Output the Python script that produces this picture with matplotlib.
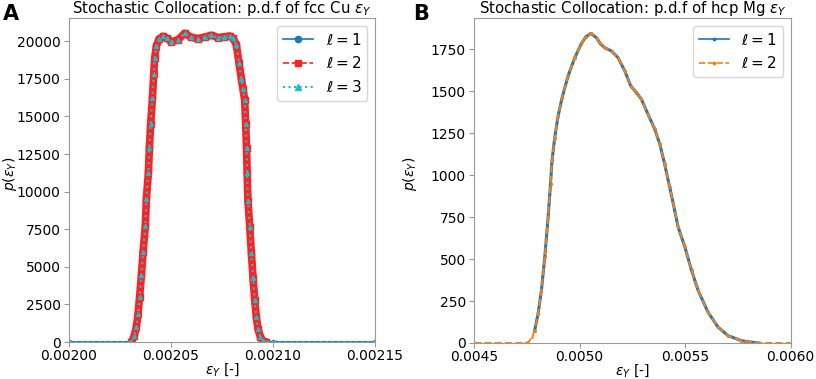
import numpy as np
import matplotlib.pyplot as plt
from matplotlib.lines import Line2D

# panel A: fcc Cu, p.d.f of yield strain
cu_eps = [0.00200, 0.00203, 0.0020306, 0.0020319, 0.0020330, 0.0020338, 0.0020346,
          0.0020355, 0.0020363, 0.0020374, 0.0020379, 0.0020389, 0.0020394, 0.0020400,
          0.0020409, 0.0020415, 0.0020420, 0.0020428, 0.0020441, 0.0020461, 0.0020480,
          0.0020502, 0.0020534, 0.0020567, 0.0020600, 0.0020632, 0.0020665, 0.0020698,
          0.0020730, 0.0020760, 0.0020788, 0.0020804, 0.0020820, 0.0020833, 0.0020845,
          0.0020853, 0.0020861, 0.0020866, 0.0020870, 0.0020873, 0.0020877, 0.0020886,
          0.0020894, 0.0020902, 0.0020910, 0.0020918, 0.0020926, 0.0020938, 0.0020951,
          0.0020967, 0.00210, 0.00215]
cu_pdf = [0, 0, 0, 380, 1000, 1840, 3000,
          4470, 6000, 7700, 9500, 11260, 12920, 14470,
          16240, 17800, 18900, 19670, 20150, 20330, 20200,
          19960, 20100, 20530, 20260, 20180, 20280, 20400,
          20250, 20300, 20350, 20200, 19780, 18560, 17500,
          16800, 16100, 14470, 12920, 11260, 9400, 7630,
          5900, 4270, 2810, 1660, 890, 330, 60,
          0, 0, 0]
# the l=2 run only covers the non-zero part
cu_eps_l2 = cu_eps[2:-2]
cu_pdf_l2 = cu_pdf[2:-2]

# panel B: hcp Mg
mg_eps = [0.004787, 0.004803, 0.004819, 0.004835, 0.004851, 0.004862, 0.004869,
          0.004882, 0.004898, 0.004917, 0.004945, 0.004977, 0.005008, 0.005030,
          0.005053, 0.005080, 0.005100, 0.005119, 0.005151, 0.005182, 0.005214,
          0.005242, 0.005269, 0.005293, 0.005324, 0.005356, 0.005380, 0.005403,
          0.005427, 0.005443, 0.005466, 0.005498, 0.005530, 0.005561, 0.005608,
          0.005656, 0.005703, 0.005766, 0.005830, 0.005850]
mg_pdf = [74, 174, 314, 514, 754, 946, 1085,
          1224, 1353, 1462, 1591, 1700, 1784, 1825,
          1845, 1819, 1780, 1760, 1740, 1700, 1621,
          1532, 1492, 1452, 1363, 1274, 1184, 1065,
          927, 834, 694, 574, 434, 314, 184,
          94, 44, 14, 2, 0]
mg_eps2 = [0.00450, 0.00474, 0.004756, 0.004775] + mg_eps + [0.005861, 0.00600]
mg_pdf2 = [0, 0, 4, 34] + mg_pdf + [0, 0]

blue = '#1f77b4'
red = '#ff2222'
cyan = '#17becf'
orange = '#ff7f0e'
gray = '#999999'

plt.rcParams['font.family'] = 'DejaVu Sans'
fig = plt.figure(figsize=(8.16, 3.79), dpi=100)
axA = fig.add_axes([0.0846, 0.0976, 0.375, 0.8550])
axB = fig.add_axes([0.581, 0.0950, 0.388, 0.8576])

def style(ax):
    for s in ax.spines.values():
        s.set_color(gray)
    ax.tick_params(colors=gray, labelcolor='black', labelsize=10)
    ax.tick_params(axis='x', pad=1.5)
    ax.tick_params(axis='y', pad=2.5)

# A
axA.plot(cu_eps, cu_pdf, color=blue, lw=1.5, marker='o', ms=3)
axA.plot(cu_eps_l2, cu_pdf_l2, color=red, lw=5.5, solid_capstyle='round')
axA.plot(cu_eps_l2, cu_pdf_l2, color=red, ls='none', marker='s', ms=4)
axA.plot(cu_eps, cu_pdf, color=cyan, lw=1.6, ls=':')
axA.plot(cu_eps, cu_pdf, color=cyan, ls='none', marker='^', ms=2.8)
axA.set_xlim(0.00200, 0.00215)
axA.set_ylim(0, 21550)
axA.set_xticks([0.00200, 0.00205, 0.00210, 0.00215])
axA.set_xticklabels(['0.00200', '0.00205', '0.00210', '0.00215'])
axA.set_yticks(np.arange(0, 20001, 2500))
axA.set_title(r'Stochastic Collocation: p.d.f of fcc Cu $\varepsilon_Y$', fontsize=10.7, pad=1.5)
axA.set_xlabel(r'$\varepsilon_Y$ [-]', fontsize=10, labelpad=-1)
axA.set_ylabel(r'$p(\varepsilon_Y)$', fontsize=10)
axA.yaxis.set_label_coords(-0.165, 0.52)
hA = [Line2D([], [], color=blue, lw=1.2, marker='o', ms=4.5),
      Line2D([], [], color=red, lw=1.2, ls='--', marker='s', ms=4.5),
      Line2D([], [], color=cyan, lw=1.5, ls=':', marker='^', ms=4.5)]
axA.legend(hA, [r'$\ell = 1$', r'$\ell = 2$', r'$\ell = 3$'], loc='upper right',
           fontsize=11, handlelength=2.0, borderaxespad=0.5)
style(axA)

# B
axB.plot(mg_eps, mg_pdf, color=blue, lw=2.2, marker='.', ms=2)
axB.plot(mg_eps2, mg_pdf2, color=orange, lw=1.4, ls='--', marker='.', ms=2)
axB.set_xlim(0.0045, 0.0060)
axB.set_ylim(0, 1937)
axB.set_xticks([0.0045, 0.0050, 0.0055, 0.0060])
axB.set_xticklabels(['0.0045', '0.0050', '0.0055', '0.0060'])
axB.set_yticks(np.arange(0, 1751, 250))
axB.set_title(r'Stochastic Collocation: p.d.f of hcp Mg $\varepsilon_Y$', fontsize=10.7, pad=1.5)
axB.set_xlabel(r'$\varepsilon_Y$ [-]', fontsize=10, labelpad=-1)
axB.set_ylabel(r'$p(\varepsilon_Y)$', fontsize=10)
axB.yaxis.set_label_coords(-0.173, 0.52)
hB = [Line2D([], [], color=blue, lw=1.2, marker='.', ms=3.5),
      Line2D([], [], color=orange, lw=1.2, ls='--', marker='.', ms=3.5)]
axB.legend(hB, [r'$\ell = 1$', r'$\ell = 2$'], loc='upper right',
           fontsize=11, handlelength=2.0, borderaxespad=0.5)
style(axB)

fig.text(0.004, 0.99, 'A', fontsize=15, fontweight='bold', va='top', ha='left')
fig.text(0.506, 0.99, 'B', fontsize=15, fontweight='bold', va='top', ha='left')

fig.savefig('out.png', dpi=100)
